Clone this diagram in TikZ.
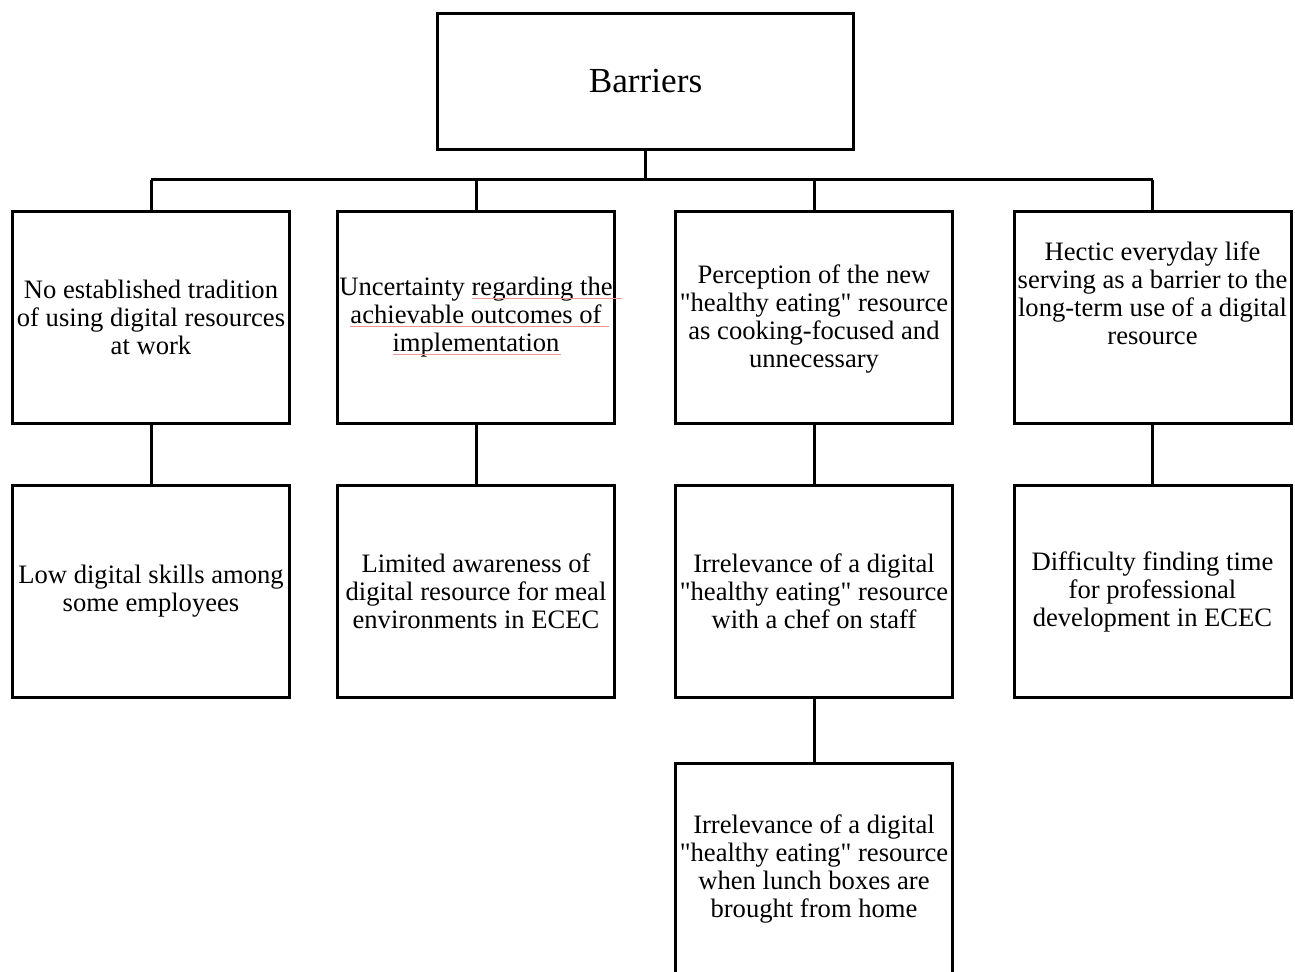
\documentclass[tikz,border=0pt]{standalone}
\usepackage{fontspec}
\setmainfont{Liberation Serif}
\newcommand{\qq}{\textquotedbl}
\begin{document}
\begin{tikzpicture}[x=0.5pt,y=-0.5pt,
  box/.style={draw=black,line width=1.5pt,fill=white,inner sep=0pt,align=center,
    minimum width=138.5pt,minimum height=106pt,font=\fontsize{13.3}{14}\selectfont},
  lbl/.style={inner sep=0pt,align=center,font=\fontsize{13.3}{14}\selectfont},
  topbox/.style={box,minimum width=208pt,minimum height=68pt,font=\fontsize{17.6}{20}\selectfont},
  conn/.style={line width=1.5pt,draw=black},
  squig/.style={draw={rgb,255:red,240;green,150;blue,150},line width=0.5pt}]
\useasboundingbox (0,0) rectangle (1295,972);
\node[topbox] (top) at (645.5,81.5) {Barriers};
\node[box] (a1) at (151,317.5) {No established tradition\\of using digital resources\\at work};
\node[box] (b1) at (476,317.5) {Uncertainty regarding the\\achievable outcomes of\\implementation};
\node[box] (c1) at (814,317.5) {};
\node[lbl] (c1text) at (814,319.5) {Perception of the new\\\qq healthy eating\qq{} resource\\as cooking-focused and\\unnecessary};
\node[box] (d1) at (1152.5,317.5) {};
\node[lbl] (d1text) at (1152.5,293) {Hectic everyday life\\serving as a barrier to the\\long-term use of a digital\\resource};
\node[box] (a2) at (151,591.5) {Low digital skills among\\some employees};
\node[box] (b2) at (476,591.5) {Limited awareness of\\digital resource for meal\\environments in ECEC};
\node[box] (c2) at (814,591.5) {Irrelevance of a digital\\\qq healthy eating\qq{} resource\\with a chef on staff};
\node[box] (d2) at (1152.5,591.5) {Difficulty finding time\\for professional\\development in ECEC};
\node[box] (c3) at (814,869) {Irrelevance of a digital\\\qq healthy eating\qq{} resource\\when lunch boxes are\\brought from home};
\coordinate (bus) at (645.5,180);
\coordinate (busL) at (151,180);
\coordinate (busR) at (1152.5,180);
\draw[conn] (top.south) -- (bus);
\draw[conn] (busL) -- (busR);
\draw[conn] (a1.north) -- (a1.north |- bus);
\draw[conn] (b1.north) -- (b1.north |- bus);
\draw[conn] (c1.north) -- (c1.north |- bus);
\draw[conn] (d1.north) -- (d1.north |- bus);
\draw[conn] (a1.south) -- (a2.north);
\draw[conn] (b1.south) -- (b2.north);
\draw[conn] (c1.south) -- (c2.north);
\draw[conn] (d1.south) -- (d2.north);
\draw[conn] (c2.south) -- (c3.north);
\draw[squig] (472,299) -- (622,299);
\draw[squig] (350,327) -- (609,327);
\draw[squig] (393,355) -- (561,355);
\end{tikzpicture}
\end{document}
